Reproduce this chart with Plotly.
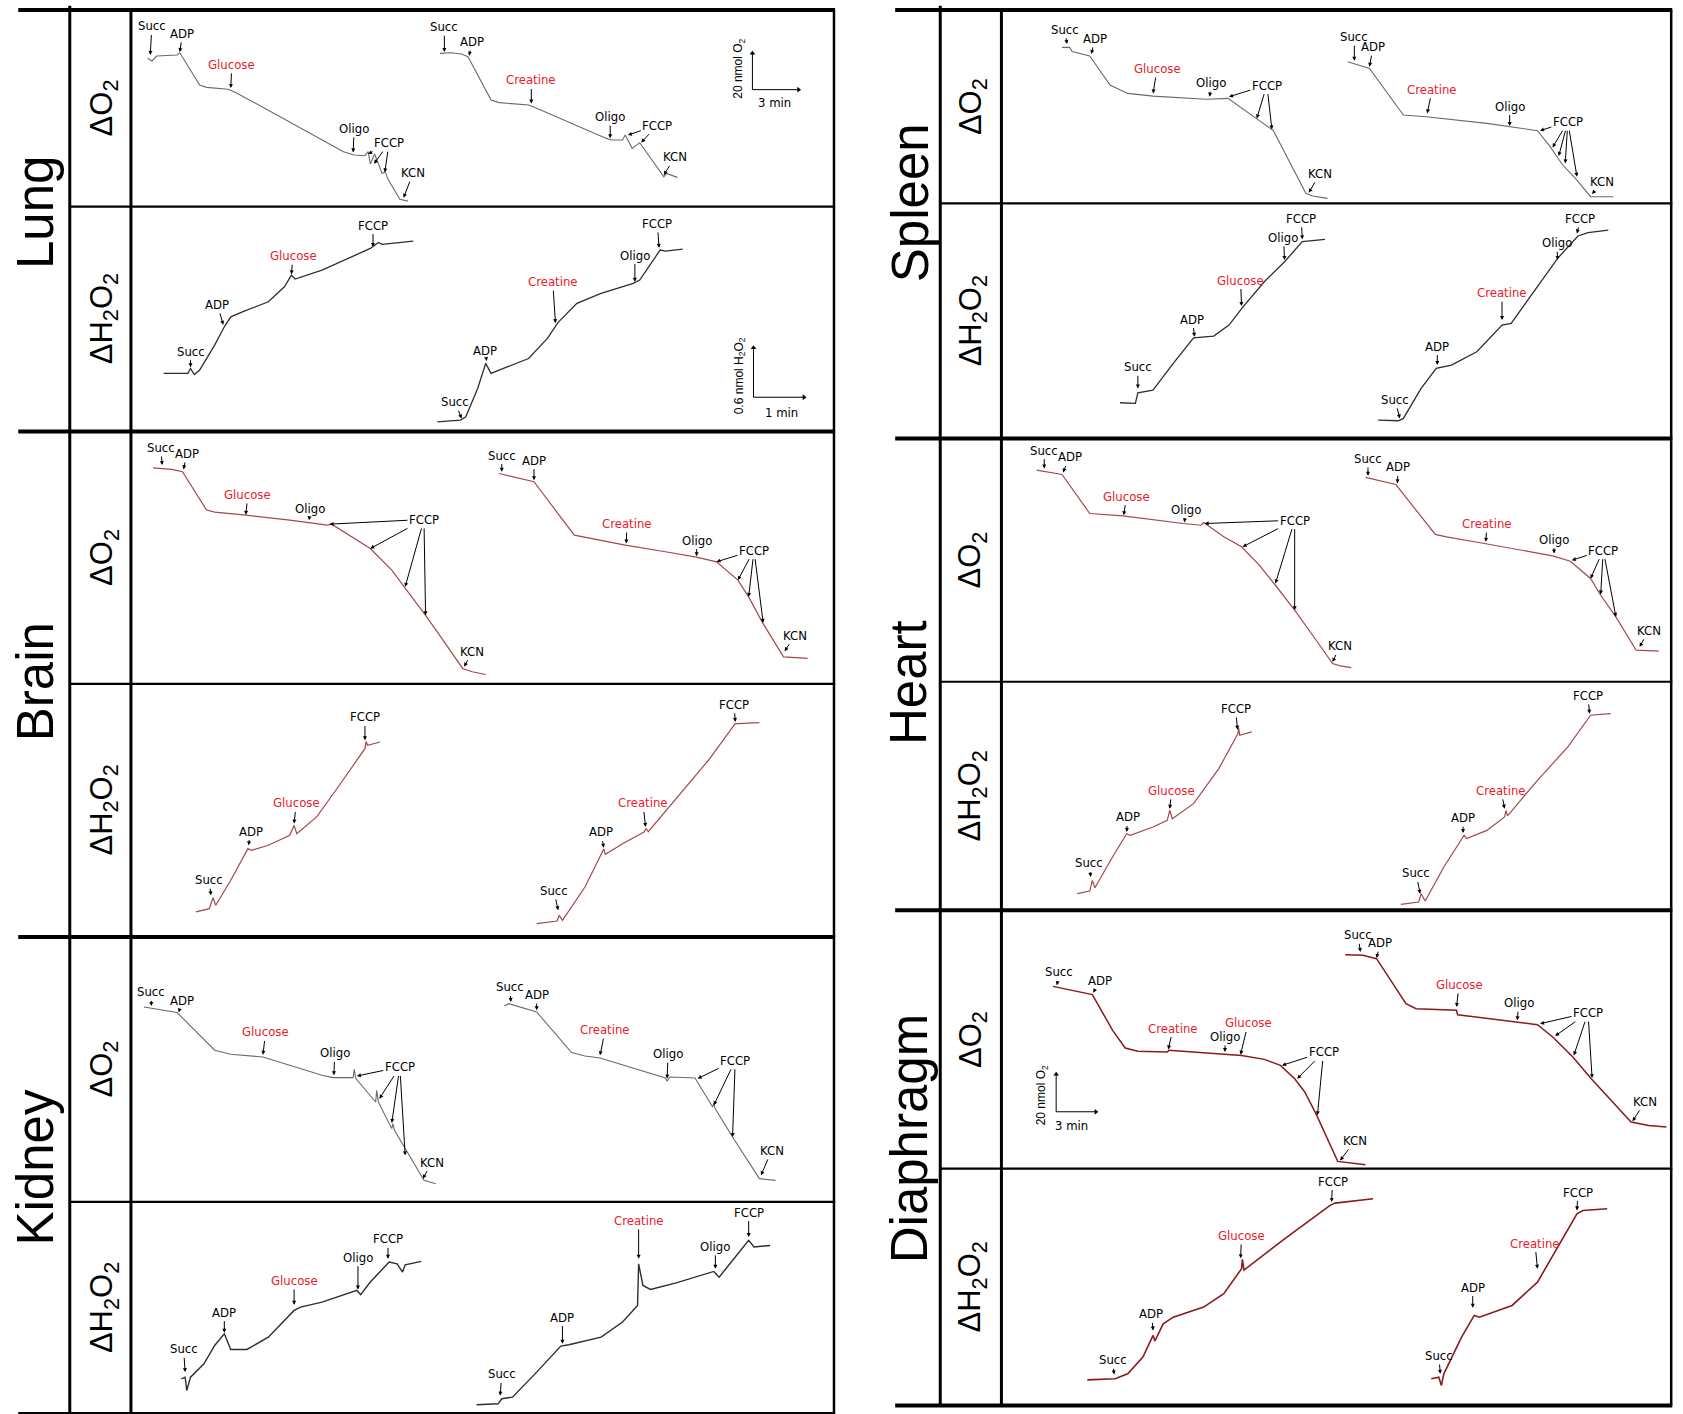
import plotly.graph_objects as go

# ---------------------------------------------------------------------------
# DATA  (t = time in panel units, v = signal in panel units)
# ---------------------------------------------------------------------------
# ---- Lung, delta O2
lung_o2_glc_t = [15.5, 19.5, 24, 43, 45.5, 64, 70.5, 90.5, 98, 198, 208, 218, 221, 223, 227, 234, 237, 239, 250.5, 258]
lung_o2_glc_v = [138.2, 135.7, 140.3, 141.3, 143.4, 113.3, 111.1, 109.3, 106.2, 51.2, 48.1, 47.5, 51.2, 39.7, 49.0, 31.0, 32.6, 26.4, 6.8, 5.2]
lung_o2_cre_t = [288, 298, 308, 314, 335.5, 343, 370.5, 378, 443, 448, 458, 460.5, 467, 474, 496.5, 499, 509]
lung_o2_cre_v = [142.8, 143.4, 142.2, 139.7, 99.3, 96.9, 94.7, 91.6, 63.6, 62.1, 62.1, 66.7, 54.3, 59.6, 27.9, 31.0, 27.3]
# ---- Lung, delta H2O2
lung_h2o2_glc_t = [30.5, 53, 55.5, 59, 64, 78, 87, 93, 105.5, 128, 143, 149.5, 153, 178, 223, 230.5, 234, 263]
lung_h2o2_glc_v = [54.2, 54.2, 58.8, 53.2, 57.3, 80.6, 97.6, 106.9, 112.2, 120.9, 134.9, 145.8, 142.1, 150.4, 170.6, 176.2, 174.4, 177.5]
lung_h2o2_cre_t = [285.5, 307, 312, 323, 330.5, 335.5, 343, 370.5, 388, 398, 415.5, 438, 468, 474, 493, 498, 514]
lung_h2o2_cre_v = [9.1, 10.7, 13.8, 40.2, 63.5, 54.2, 57.3, 68.1, 86.8, 101.7, 119.4, 128.7, 138.0, 141.1, 169.1, 168.1, 170.0]
# ---- Brain, delta O2
brain_o2_glc_t = [20.5, 38, 48, 70.5, 78, 107, 148, 183, 187, 203, 223, 243, 275.5, 293, 309, 318, 330.5]
brain_o2_glc_v = [201.3, 199.8, 197.6, 161.9, 160.0, 157.2, 152.5, 147.9, 148.8, 138.6, 126.1, 106.0, 62.5, 37.6, 14.4, 11.3, 8.8]
brain_o2_cre_t = [343, 375.5, 413, 428, 460.5, 498, 528, 545.5, 565.5, 575.5, 588, 608, 615.5, 630.5]
brain_o2_cre_v = [196.0, 188.3, 138.6, 135.5, 129.3, 123.1, 117.8, 113.7, 96.7, 81.1, 57.8, 25.2, 24.6, 23.7]
# ---- Brain, delta H2O2
brain_h2o2_glc_t = [60.5, 73, 76.5, 79, 93, 109, 112, 128, 148, 152, 154.5, 173, 193, 218, 219, 220.5, 232]
brain_h2o2_glc_v = [23.3, 26.4, 36.6, 29.5, 52.8, 82.3, 80.7, 85.4, 94.7, 104.0, 96.2, 111.8, 139.7, 175.4, 182, 178.5, 181.6]
brain_h2o2_cre_t = [378, 397, 399, 402, 423, 438, 440.5, 442, 458, 478, 480, 482, 508, 538, 563, 565.5, 585.5]
brain_h2o2_cre_v = [12.4, 14.9, 20.2, 15.5, 46.5, 78, 82, 77, 86.9, 97.8, 101, 98, 128.8, 164.6, 198.7, 198.7, 199.7]
# ---- Kidney, delta O2
kidney_o2_glc_t = [12, 43, 78, 93, 123, 138, 178, 188, 207, 208, 209.5, 228, 229, 230.5, 243, 244, 245.5, 273, 284]
kidney_o2_glc_v = [181.6, 176.4, 141.3, 137.5, 135.0, 130.4, 118.0, 115.8, 115.8, 123.6, 114.9, 93.1, 103.9, 93.1, 68.3, 72.9, 66.7, 20.1, 17.0]
kidney_o2_cre_t = [348, 352, 378, 410.5, 423, 437, 498, 499.5, 502, 525.5, 542, 543, 544, 560.5, 585.5, 600.5]
kidney_o2_cre_v = [182.6, 184.7, 177.0, 139.1, 136.0, 134.1, 115.5, 112.5, 116.4, 115.5, 88.5, 92, 87.5, 60.5, 21.7, 20.1]
# ---- Kidney, delta H2O2
kidney_h2o2_glc_t = [47, 50.5, 52, 55.5, 68, 78, 87, 93, 108, 128, 152, 158, 178, 210.5, 214, 223, 240.5, 248, 253, 255.5, 270.5]
kidney_h2o2_glc_v = [32.8, 34.3, 21.9, 34.3, 46.8, 63.8, 74.7, 60.1, 60.1, 71.6, 96.5, 99.6, 104.2, 115.1, 111.1, 122.9, 141.5, 139.9, 132.2, 139.0, 142.1]
kidney_h2o2_cre_t = [322, 342, 345.5, 355.5, 378, 400.5, 408, 438, 458, 472, 473, 477, 484, 508, 543, 548, 558, 575.5, 580.5, 595.5]
kidney_h2o2_cre_v = [8.6, 9.5, 14.2, 15.7, 39.0, 63.2, 64.5, 71.6, 85.6, 101.1, 139.9, 119.7, 116.0, 122.2, 132.8, 127.5, 139.9, 161.7, 155.5, 157.0]
# ---- Spleen, delta O2
spleen_o2_glc_t = [56.4, 63.5, 65.9, 82.3, 101.2, 117.7, 141.3, 190.7, 211, 235.5, 253.4, 283.6, 289.7, 303.8]
spleen_o2_glc_v = [145.3, 145.3, 141.3, 137.2, 110.2, 102.4, 99.9, 96.9, 97.8, 80.7, 67.7, 9.3, 6.8, 4.6]
spleen_o2_cre_t = [322.7, 329.8, 342.9, 374.5, 395.7, 452.3, 473.5, 499.4, 511.2, 522.9, 534.8, 548.9, 570.1]
spleen_o2_cre_v = [131.9, 129.8, 125.7, 82.3, 80.7, 74.5, 71.4, 67.7, 52.8, 35.7, 23.3, 6.2, 6.2]
# ---- Spleen, delta H2O2
spleen_h2o2_glc_t = [110.6, 124.8, 127.1, 141.2, 160.1, 179, 197.8, 212, 224.7, 244.9, 263.8, 280.3, 301.5]
spleen_h2o2_glc_v = [33.3, 32.7, 42.6, 45.1, 69.9, 93.8, 95.4, 105.6, 122.1, 146.0, 164.6, 183.3, 185.5]
spleen_h2o2_cre_t = [351, 369.8, 374.5, 391, 405.1, 419.3, 442.9, 466.4, 474.9, 518.2, 537.1, 546.5, 565.4]
spleen_h2o2_cre_v = [17.1, 16.5, 18.7, 46.6, 65.3, 68.4, 80.8, 105.6, 107.2, 167.8, 188.6, 191.7, 194.1]
# ---- Heart, delta O2
heart_o2_glc_t = [32.9, 56.4, 82.3, 113, 169.5, 186, 188.4, 207.2, 223.7, 240.2, 255.3, 273.2, 292.1, 308.5, 315.6, 326]
heart_o2_glc_v = [197.1, 193.1, 156.7, 154.5, 147.4, 145.8, 148.3, 135.0, 125.7, 108.6, 89.9, 66.7, 40.3, 17.0, 14.8, 13.2]
heart_o2_cre_t = [339.2, 367.5, 404.2, 414.6, 450, 513.6, 530, 548.9, 558.3, 572.5, 591.3, 612.5]
heart_o2_cre_v = [190.3, 183.7, 137.2, 135.0, 128.8, 117.3, 112.3, 96.2, 80.6, 60.4, 29.4, 28.5]
# ---- Heart, delta H2O2
heart_h2o2_glc_t = [70.6, 82.3, 84.7, 87.1, 103.5, 116.7, 120, 141.2, 154.5, 156.8, 159.2, 179, 202.5, 220.4, 221, 222, 233.2]
heart_h2o2_glc_v = [15.5, 18.0, 27.9, 21.1, 49.7, 71.4, 69.9, 77.6, 83.9, 93.2, 85.4, 99.4, 132.0, 164.6, 170, 163, 166.2]
heart_h2o2_cre_t = [372.2, 388.7, 391.1, 394.8, 412.2, 431.1, 433.4, 452.3, 468.8, 470, 471.5, 499.4, 527.7, 548.9, 567.7]
heart_h2o2_cre_v = [5.6, 7.8, 15.5, 8.7, 40.4, 69.9, 66.8, 74.5, 87.0, 93, 88, 121.1, 152.2, 181.7, 183.2]
# ---- Diaphragm, delta O2 (left: creatine then glucose; right: glucose)
diaph_o2_a_t = [48, 84.7, 103.6, 115.3, 127.1, 154.5, 156, 207.2, 223.7, 244.9, 260, 273.2, 282.6, 293, 306.2, 313.3, 339.2]
diaph_o2_a_v = [169.8, 162.1, 128.8, 112.4, 109.3, 108.7, 110.3, 107.1, 105.5, 101.8, 96.2, 83.8, 71.4, 51.2, 23.3, 6.8, 3.7]
diaph_o2_b_t = [320.3, 336.8, 349.5, 376.9, 386.3, 424, 425, 480.6, 499.4, 513.6, 532.4, 548.9, 586.6, 603.1, 619.6]
diaph_o2_b_v = [199.3, 198.7, 195.6, 153.7, 149.0, 147.5, 143.4, 136.6, 134.1, 122.6, 104.0, 84.4, 43.4, 40.3, 38.8]
# ---- Diaphragm, delta H2O2
diaph_h2o2_glc_t = [80, 105.9, 117.7, 131.8, 141.3, 143, 150.7, 160.1, 188.4, 207.2, 223.7, 224.5, 226, 263.8, 306.2, 310.9, 346.2]
diaph_h2o2_glc_v = [23.8, 24.8, 29.4, 45.0, 65.2, 60, 76.0, 82.2, 91.6, 104.0, 127.3, 136, 126, 155.2, 186.3, 188.4, 192.5]
diaph_h2o2_cre_t = [400.4, 407.5, 409.9, 412.2, 428.7, 440.5, 445.2, 475.8, 499.4, 518.2, 536.2, 541.8, 564.4]
diaph_h2o2_cre_v = [24.8, 26.3, 18.6, 29.4, 63.6, 83.8, 82.2, 93.1, 114.8, 147.5, 178.5, 181.6, 183.2]

# Event labels:  (label, label_t, label_v, [arrow heads (t, v)])
lung_o2_marks = [
    ("Succ", 19.5, 168.3, [(18, 141.3)]), ("ADP", 48, 161.4, [(45.5, 144)]),
    ("Glucose", 94, 132.6, [(93, 110.5)]), ("Oligo", 208, 72.9, [(207, 50.5)]),
    ("FCCP", 240.5, 59.6, [(221, 49), (226.5, 40), (236.5, 32)]), ("KCN", 263, 31.6, [(254, 8.3)]),
    ("Succ", 292, 167.7, [(292, 144)]), ("ADP", 318, 153.7, [(315, 140.5)]),
    ("Creatine", 373, 118, [(373, 96)]), ("Oligo", 446.5, 83.8, [(446.5, 63.8)]),
    ("FCCP", 490.5, 76, [(463, 66.7), (475.5, 59.8)]), ("KCN", 507, 46.5, [(496.5, 29.5)])]
lung_h2o2_marks = [
    ("Succ", 55.5, 75, [(55.5, 60)]), ("ADP", 80.5, 118.5, [(86, 99.5)]),
    ("Glucose", 151, 163.8, [(149.5, 146.5)]), ("FCCP", 225.5, 192.4, [(225.5, 172)]),
    ("Succ", 302, 27.8, [(308, 12.2)]), ("ADP", 329.5, 75.9, [(331.5, 65.7)]),
    ("Creatine", 393, 139.6, [(395.5, 101)]), ("Oligo", 469.5, 164.4, [(469.5, 139.6)]),
    ("FCCP", 490.5, 193.9, [(492, 171.2)])]
brain_o2_marks = [
    ("Succ", 28, 220.2, [(29, 203.8)]), ("ADP", 52, 214.7, [(49, 199.8)]),
    ("Glucose", 109, 176.5, [(107, 157.5)]), ("Oligo", 167, 163.4, [(166, 152.5)]),
    ("FCCP", 273, 153.2, [(185, 148.8), (223, 126.1), (255.5, 90.4), (274.5, 64)]),
    ("KCN", 318, 30.5, [(310.5, 16)]),
    ("Succ", 345.5, 213.1, [(345.5, 197.6)]), ("ADP", 375.5, 208.4, [(375.5, 189.8)]),
    ("Creatine", 462, 149.4, [(461.5, 130.8)]), ("Oligo", 527, 133.9, [(527, 119)]),
    ("FCCP", 580.5, 124.6, [(545.5, 113.7), (565.5, 96.7), (575.5, 81.1), (589, 56.9)]),
    ("KCN", 619, 45.4, [(609, 30.5)])]
brain_h2o2_marks = [
    ("Succ", 73, 53.4, [(74.5, 38.8)]), ("ADP", 111.5, 98.7, [(109.5, 85.4)]),
    ("Glucose", 154, 124.8, [(152, 105.6)]), ("FCCP", 218, 204.9, [(218, 183.2)]),
    ("Succ", 394, 43.5, [(398, 24.8)]), ("ADP", 438, 97.8, [(440.5, 83)]),
    ("Creatine", 477, 124.8, [(479.5, 102.5)]), ("FCCP", 562, 216.7, [(563, 200.3)])]
kidney_o2_marks = [
    ("Succ", 19, 195.6, [(19, 182.6)]), ("ADP", 48, 187.8, [(44.5, 176.6)]),
    ("Glucose", 125.5, 158.3, [(123, 137.2)]), ("Oligo", 190, 138.8, [(189, 118)]),
    ("FCCP", 250.5, 125.7, [(210.5, 117.3), (231.5, 96.2), (243, 73.5), (255.5, 43.4)]),
    ("KCN", 280.5, 37.2, [(272, 21.7)]),
    ("Succ", 353, 200.3, [(354, 186.3)]), ("ADP", 378, 193.1, [(378, 178.5)]),
    ("Creatine", 442, 160.5, [(437, 136.6)]), ("Oligo", 500.5, 138.1, [(499.5, 114.9)]),
    ("FCCP", 563, 131.9, [(528, 114.9), (543, 90), (560.5, 60.5)]), ("KCN", 597, 48.1, [(587, 24.8)])]
kidney_h2o2_marks = [
    ("Succ", 49, 60.7, [(50.5, 39)]), ("ADP", 87, 94.9, [(87, 75.7)]),
    ("Glucose", 152, 124.4, [(152, 101.7)]), ("Oligo", 211.5, 146.1, [(211.5, 116)]),
    ("FCCP", 239.5, 163.2, [(239.5, 144.6)]),
    ("Succ", 345.5, 37.4, [(344, 17.2)]), ("ADP", 402, 90.2, [(402, 65.4)]),
    ("Creatine", 473, 180.3, [(473, 144.6)]), ("Oligo", 544.5, 156.1, [(544.5, 135.3)]),
    ("FCCP", 575.5, 188.1, [(575.5, 164.8)])]
spleen_o2_marks = [
    ("Succ", 58.8, 162.1, [(61.1, 148.4)]), ("ADP", 87.1, 153.7, [(83.8, 139.1)]),
    ("Glucose", 145, 125.7, [(141.3, 102.4)]), ("Oligo", 195.4, 112.4, [(194, 99.3)]),
    ("FCCP", 247.3, 110.2, [(212, 99.3), (237.9, 79.1), (252, 68.9)]), ("KCN", 296.8, 27.9, [(286.4, 9.9)]),
    ("Succ", 328.8, 155.2, [(328.8, 132.9)]), ("ADP", 346.3, 145.9, [(342.9, 127.3)]),
    ("Creatine", 401.4, 106.2, [(396.7, 83.8)]), ("Oligo", 473.5, 90.6, [(473.5, 72)]),
    ("FCCP", 527.7, 76, [(501.8, 67.7), (513.5, 52.1), (519.2, 44.1), (525.3, 37.2), (536.2, 24.8)]),
    ("KCN", 559.7, 20.1, [(550.3, 8.7)])]
spleen_h2o2_marks = [
    ("Succ", 127.1, 66.8, [(127.1, 46.6)]), ("ADP", 178, 111.2, [(179.9, 94.8)]),
    ("Glucose", 222.8, 147.6, [(223.7, 123.3)]), ("Oligo", 262.8, 187.3, [(263.8, 166.2)]),
    ("FCCP", 279.3, 205, [(280.3, 185.5)]),
    ("Succ", 366.5, 36.4, [(371.2, 18.7)]), ("ADP", 406.1, 86.1, [(406.1, 68.4)]),
    ("Creatine", 466.4, 135.8, [(466.4, 110.3)]), ("Oligo", 517.3, 182.3, [(518.2, 166.2)]),
    ("FCCP", 539.5, 205, [(536.2, 191)])]
heart_o2_marks = [
    ("Succ", 39.9, 215.7, [(39.9, 198.6)]), ("ADP", 63.5, 209.5, [(57.4, 194.9)]),
    ("Glucose", 116.7, 172.9, [(113.9, 155.2)]), ("Oligo", 171.9, 160.8, [(170.5, 148.3)]),
    ("FCCP", 273.2, 150.5, [(189.3, 147.4), (224.7, 125.7), (255.3, 91.5), (273.2, 66.7)]),
    ("KCN", 315.6, 33.4, [(308.5, 18.5)]),
    ("Succ", 341.5, 208, [(341.5, 191.8)]), ("ADP", 369.8, 200.2, [(368.9, 184.7)]),
    ("Creatine", 452.3, 147.4, [(451.3, 130.3)]), ("Oligo", 514.9, 132.8, [(514.9, 119.5)]),
    ("FCCP", 560.7, 122.6, [(531.5, 113.2), (548.9, 96.2), (558.3, 81.3), (572.5, 60.4)]),
    ("KCN", 603.1, 48, [(594.6, 32.5)])]
heart_h2o2_marks = [
    ("Succ", 81.4, 44.1, [(83.3, 31.1)]), ("ADP", 117.7, 87, [(116.7, 73)]),
    ("Glucose", 158.7, 111.8, [(156.8, 94.7)]), ("FCCP", 218.1, 187.9, [(220, 168.3)]),
    ("Succ", 386.3, 34.8, [(390.1, 15.5)]), ("ADP", 430.1, 86.4, [(430.1, 72.1)]),
    ("Creatine", 465.5, 111.8, [(468.8, 94.7)]), ("FCCP", 546.5, 200.3, [(547.9, 183.2)])]
diaph_o2_marks = [
    ("Succ", 54.1, 183.2, [(51.7, 170.8)]), ("ADP", 91.8, 175.4, [(85.6, 163.9)]),
    ("Creatine", 160.1, 131, [(155.4, 111.1)]), ("Oligo", 208.6, 123.2, [(208.2, 108.7)]),
    ("Glucose", 229.9, 135.7, [(222.8, 106.2)]),
    ("FCCP", 300.1, 108.7, [(261.4, 96.2), (275.6, 83.8), (294.4, 49.7)]), ("KCN", 329.8, 26.4, [(315.6, 7.7)]),
    ("Succ", 332, 217.8, [(334.5, 201.8)]), ("ADP", 353, 210.5, [(349.5, 196.2)]),
    ("Glucose", 426.4, 171.7, [(424, 150.6)]), ("Oligo", 482, 154.6, [(480.6, 138.2)]),
    ("FCCP", 546.5, 145.3, [(501.8, 135), (515.9, 123.6), (533.3, 105.5), (550.3, 84.4)]),
    ("KCN", 599.8, 62.7, [(588, 44.1)])]
diaph_h2o2_marks = [
    ("Succ", 103.5, 42.5, [(105, 28.8)]), ("ADP", 139.8, 85.3, [(141.3, 69.8)]),
    ("Glucose", 223.7, 158.3, [(222.8, 137)]), ("FCCP", 308.5, 209, [(307.6, 189.4)]),
    ("Succ", 407.5, 46.5, [(408.9, 29.4)]), ("ADP", 439.1, 110.2, [(439.1, 90.9)]),
    ("Creatine", 497.1, 151.2, [(499.4, 127.3)]), ("FCCP", 537.1, 198.7, [(536.2, 181.6)])]

tissues = ["Lung", "Brain", "Kidney", "Spleen", "Heart", "Diaphragm"]
SUBSTRATES = ("Glucose", "Creatine")

# ---------------------------------------------------------------------------
# LAYOUT (grid units of the reference drawing)
# ---------------------------------------------------------------------------
W, H = 1683, 1414
SW, SH = 1568.0, 1317.0
LEFT = dict(outer=17, lab=65, plot=122, right=777)
RIGHT = dict(outer=834, lab=876, plot=933, right=1557)
LEFT_ROWS = [9.3, 192.5, 402, 637, 872.7, 1119.5, 1317]
RIGHT_ROWS = [9.3, 189.4, 408.4, 635, 847.9, 1088.5, 1309]

GRAY_O2, GRAY_H = "#6a6a6a", "#2e2e2e"
BRICK = "#a5474a"
DARKRED = "#8a1a1c"
RED_TXT = "#e8202a"
NARROW = "Liberation Sans Narrow, DejaVu Sans Condensed, Arial Narrow, sans-serif"
SANS = "Liberation Sans, Arial, Helvetica, sans-serif"

panels = [
    dict(col=LEFT, rows=LEFT_ROWS, r=0, traces=[(lung_o2_glc_t, lung_o2_glc_v), (lung_o2_cre_t, lung_o2_cre_v)], marks=lung_o2_marks, color=GRAY_O2, w=1.1),
    dict(col=LEFT, rows=LEFT_ROWS, r=1, traces=[(lung_h2o2_glc_t, lung_h2o2_glc_v), (lung_h2o2_cre_t, lung_h2o2_cre_v)], marks=lung_h2o2_marks, color=GRAY_H, w=1.3),
    dict(col=LEFT, rows=LEFT_ROWS, r=2, traces=[(brain_o2_glc_t, brain_o2_glc_v), (brain_o2_cre_t, brain_o2_cre_v)], marks=brain_o2_marks, color=BRICK, w=1.2),
    dict(col=LEFT, rows=LEFT_ROWS, r=3, traces=[(brain_h2o2_glc_t, brain_h2o2_glc_v), (brain_h2o2_cre_t, brain_h2o2_cre_v)], marks=brain_h2o2_marks, color=BRICK, w=1.2),
    dict(col=LEFT, rows=LEFT_ROWS, r=4, traces=[(kidney_o2_glc_t, kidney_o2_glc_v), (kidney_o2_cre_t, kidney_o2_cre_v)], marks=kidney_o2_marks, color=GRAY_O2, w=1.1),
    dict(col=LEFT, rows=LEFT_ROWS, r=5, traces=[(kidney_h2o2_glc_t, kidney_h2o2_glc_v), (kidney_h2o2_cre_t, kidney_h2o2_cre_v)], marks=kidney_h2o2_marks, color=GRAY_H, w=1.4),
    dict(col=RIGHT, rows=RIGHT_ROWS, r=0, traces=[(spleen_o2_glc_t, spleen_o2_glc_v), (spleen_o2_cre_t, spleen_o2_cre_v)], marks=spleen_o2_marks, color=GRAY_O2, w=1.1),
    dict(col=RIGHT, rows=RIGHT_ROWS, r=1, traces=[(spleen_h2o2_glc_t, spleen_h2o2_glc_v), (spleen_h2o2_cre_t, spleen_h2o2_cre_v)], marks=spleen_h2o2_marks, color=GRAY_H, w=1.3),
    dict(col=RIGHT, rows=RIGHT_ROWS, r=2, traces=[(heart_o2_glc_t, heart_o2_glc_v), (heart_o2_cre_t, heart_o2_cre_v)], marks=heart_o2_marks, color=BRICK, w=1.2),
    dict(col=RIGHT, rows=RIGHT_ROWS, r=3, traces=[(heart_h2o2_glc_t, heart_h2o2_glc_v), (heart_h2o2_cre_t, heart_h2o2_cre_v)], marks=heart_h2o2_marks, color=BRICK, w=1.2),
    dict(col=RIGHT, rows=RIGHT_ROWS, r=4, traces=[(diaph_o2_a_t, diaph_o2_a_v), (diaph_o2_b_t, diaph_o2_b_v)], marks=diaph_o2_marks, color=DARKRED, w=1.5),
    dict(col=RIGHT, rows=RIGHT_ROWS, r=5, traces=[(diaph_h2o2_glc_t, diaph_h2o2_glc_v), (diaph_h2o2_cre_t, diaph_h2o2_cre_v)], marks=diaph_h2o2_marks, color=DARKRED, w=1.6),
]

fig = go.Figure()
annotations = []
axes = {}


def ax_names(i):
    return ("x", "y") if i == 1 else (f"x{i}", f"y{i}")


for i, p in enumerate(panels, start=1):
    xn, yn = ax_names(i)
    col, rows, r = p["col"], p["rows"], p["r"]
    top, bot = rows[r], rows[r + 1]
    kx = "xaxis" if i == 1 else f"xaxis{i}"
    ky = "yaxis" if i == 1 else f"yaxis{i}"
    axes[kx] = dict(domain=[col["plot"] / SW, col["right"] / SW], range=[0, col["right"] - col["plot"]],
                    visible=False, fixedrange=True, anchor=yn)
    axes[ky] = dict(domain=[1 - bot / SH, 1 - top / SH], range=[0, bot - top],
                    visible=False, fixedrange=True, anchor=xn)
    for t, v in p["traces"]:
        fig.add_trace(go.Scatter(x=t, y=v, mode="lines", xaxis=xn, yaxis=yn,
                                 line=dict(color=p["color"], width=p["w"]),
                                 hoverinfo="skip", showlegend=False))
    for label, lt, lv, heads in p["marks"]:
        tc = RED_TXT if label in SUBSTRATES else "black"
        for j, (ht, hv) in enumerate(heads):
            annotations.append(dict(
                x=ht, y=hv, ax=lt, ay=lv, xref=xn, yref=yn, axref=xn, ayref=yn,
                text=label, showarrow=True, arrowhead=2, arrowsize=0.8, arrowwidth=1,
                arrowcolor="black", standoff=0, startstandoff=0,
                font=dict(family=NARROW, size=13, color=tc if j == 0 else "rgba(0,0,0,0)")))

# ---- scale bars (L-shaped, arrow tipped) -------------------------------------------
scale_bars = [
    (1, (579, 109), 34, 43, "20 nmol O<sub>2</sub>", "3 min", (567, 128), (600, 97)),
    (2, (580, 32), 46, 47, "0.6 nmol H<sub>2</sub>O<sub>2</sub>", "1 min", (567, 52), (606, 18)),
    (11, (51, 53), 35, 37, "20 nmol O<sub>2</sub>", "3 min", (37.5, 68), (65, 40)),
]
for idx, (t0, v0), lv, lh, vlab, hlab, vpos, hpos in scale_bars:
    xn, yn = ax_names(idx)
    fig.add_trace(go.Scatter(x=[t0, t0, t0 + lh], y=[v0 + lv, v0, v0], mode="lines", xaxis=xn, yaxis=yn,
                             line=dict(color="black", width=1), hoverinfo="skip", showlegend=False))
    fig.add_trace(go.Scatter(x=[t0, t0 + lh], y=[v0 + lv, v0], mode="markers", xaxis=xn, yaxis=yn,
                             marker=dict(symbol=["triangle-up", "triangle-right"], size=5, color="black"),
                             hoverinfo="skip", showlegend=False))
    annotations.append(dict(x=vpos[0], y=vpos[1], xref=xn, yref=yn, text=vlab, textangle=-90,
                            xanchor="center", yanchor="middle",
                            showarrow=False, font=dict(family=SANS, size=12, color="black")))
    annotations.append(dict(x=hpos[0], y=hpos[1], xref=xn, yref=yn, text=hlab,
                            xanchor="center", yanchor="middle",
                            showarrow=False, font=dict(family=NARROW, size=13, color="black")))

# ---- frame lines --------------------------------------------------------------------
shapes = []


def hline(y, x0, x1, w):
    shapes.append(dict(type="line", xref="paper", yref="paper", x0=x0 / SW, x1=x1 / SW,
                       y0=1 - y / SH, y1=1 - y / SH, line=dict(color="black", width=w)))


def vline(x, y0, y1, w):
    shapes.append(dict(type="line", xref="paper", yref="paper", x0=x / SW, x1=x / SW,
                       y0=1 - y0 / SH, y1=1 - y1 / SH, line=dict(color="black", width=w)))


for col, rows in ((LEFT, LEFT_ROWS), (RIGHT, RIGHT_ROWS)):
    for k, y in enumerate(rows):
        if k % 2 == 0:
            hline(y, col["outer"], col["right"] + 1, 4)
        else:
            hline(y, col["lab"], col["right"] + 1, 2.2)
    vline(col["lab"], rows[0] - 4, rows[-1], 3)
    vline(col["plot"], rows[0], rows[-1], 3)
    vline(col["right"], rows[0], rows[-1], 2.5)

# ---- tissue and measurement labels ---------------------------------------------------
tissue_pos = [(33, 198), (33, 635), (33, 1087), (849, 189), (847, 636), (847, 1061)]
for name, (x, y) in zip(tissues, tissue_pos):
    annotations.append(dict(x=x / SW, y=1 - y / SH, xref="paper", yref="paper", text=name,
                            xanchor="center", yanchor="middle",
                            textangle=-90, showarrow=False, font=dict(family=SANS, size=51, color="black")))

for col, rows, xc in ((LEFT, LEFT_ROWS, 97), (RIGHT, RIGHT_ROWS, 906)):
    for r in range(6):
        yc = (rows[r] + rows[r + 1]) / 2
        txt = "ΔO<sub>2</sub>" if r % 2 == 0 else "ΔH<sub>2</sub>O<sub>2</sub>"
        annotations.append(dict(x=xc / SW, y=1 - yc / SH, xref="paper", yref="paper", text=txt,
                                xanchor="center", yanchor="middle",
                                textangle=-90, showarrow=False, font=dict(family=SANS, size=31, color="black")))

fig.update_layout(
    width=W, height=H, margin=dict(l=0, r=0, t=0, b=0),
    paper_bgcolor="white", plot_bgcolor="white",
    showlegend=False, annotations=annotations, shapes=shapes, **axes)

fig.write_html("out.html")
